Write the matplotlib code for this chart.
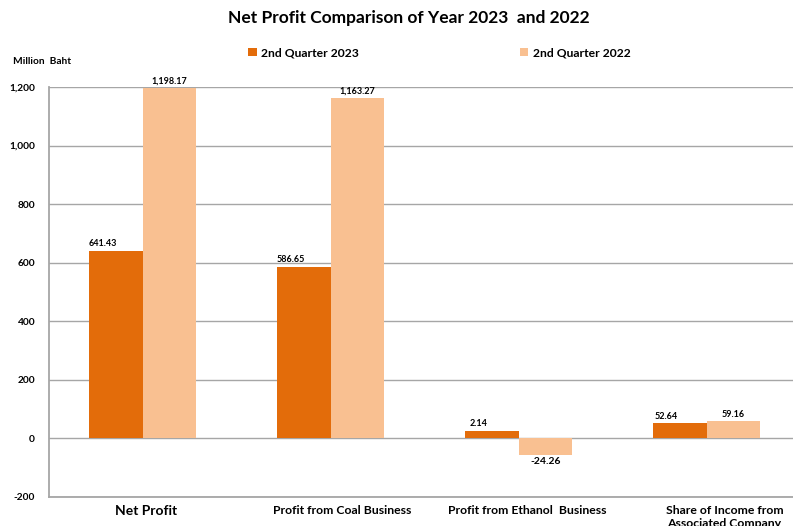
import numpy as np
import matplotlib.pyplot as plt
import matplotlib as mpl
import matplotlib.transforms as mtrans

mpl.rcParams['font.family'] = ['Lato', 'DejaVu Sans']
mpl.rcParams['font.weight'] = 'bold'

categories = ['Net Profit', 'Profit from Coal Business', 'Profit from Ethanol  Business',
              'Share of Income from\nAssociated Company']
# bar heights as drawn in the picture (ethanol bars are drawn larger than their labels)
q2_2023 = [641.43, 586.65, 26.0, 52.64]
q2_2022 = [1198.17, 1163.27, -55.0, 59.16]
labels_2023 = ['641.43', '586.65', '2.14', '52.64']
labels_2022 = ['1,198.17', '1,163.27', '-24.26', '59.16']
yticks = [-200, 0, 200, 400, 600, 800, 1000, 1200]

c_2023 = '#E36C0A'
c_2022 = '#F9C091'
grid_c = '#A6A6A6'

fig = plt.figure(figsize=(7.93, 5.26), dpi=100)
ax = fig.add_axes([49/793, 1-497/526, 1-49/793, (497-87)/526])

x = np.arange(len(categories))
w = 0.285
b1 = ax.bar(x - w/2, q2_2023, w, color=c_2023, label='2nd Quarter 2023', zorder=3)
b2 = ax.bar(x + w/2, q2_2022, w, color=c_2022, label='2nd Quarter 2022', zorder=3)

for rect, txt in zip(b1, labels_2023):
    h = rect.get_height()
    ax.text(rect.get_x() + rect.get_width()/2 - 0.07, h + 8, txt, ha='center',
            va='bottom', fontsize=6.5)
for rect, txt in zip(b2, labels_2022):
    h = rect.get_height()
    if h >= 0:
        ax.text(rect.get_x() + rect.get_width()/2, h + 8, txt, ha='center', va='bottom', fontsize=6.5)
    else:
        ax.text(rect.get_x() + rect.get_width()/2, h - 8, txt, ha='center', va='top', fontsize=7.5)

ax.set_ylim(-200, 1200)
ax.set_xlim(-0.5, 3.46)
ax.set_yticks(yticks)
ax.set_yticklabels([f'{v:,}' for v in yticks], fontsize=7.3)
ax.yaxis.grid(True, color=grid_c, lw=1, zorder=0)
ax.tick_params(axis='y', length=0, pad=10)
ax.tick_params(axis='x', length=0, pad=6)
ax.set_xticks(x)
ax.set_xticklabels(categories, fontsize=8.8, linespacing=1.15)
ax.get_xticklabels()[0].set_fontsize(10)
# category labels sit a little right of the bar pairs in the original
for lab, dx in zip(ax.get_xticklabels(), [3, 11, 9, 18]):
    lab.set_transform(lab.get_transform() + mtrans.ScaledTranslation(dx/100, 0, fig.dpi_scale_trans))
for s in ['top', 'right']:
    ax.spines[s].set_visible(False)
ax.spines['left'].set_color(grid_c)
ax.spines['bottom'].set_color(grid_c)
ax.spines['left'].set_linewidth(1.3)
ax.spines['bottom'].set_linewidth(1.3)

fig.text(0.515, 1-18/526, 'Net Profit Comparison of Year 2023  and 2022', ha='center', va='center',
         fontsize=12.5, fontweight='bold')
fig.text(13/793, 1-62/526, 'Million  Baht', ha='left', va='center', fontsize=7.3)
ax.legend(loc='center', bbox_to_anchor=(0.525, (497-53)/(497-87)), ncol=2, frameon=False,
          fontsize=8.7, handlelength=0.7, handleheight=0.7, columnspacing=13.3, handletextpad=0.4)

fig.savefig('out.png', dpi=100)
